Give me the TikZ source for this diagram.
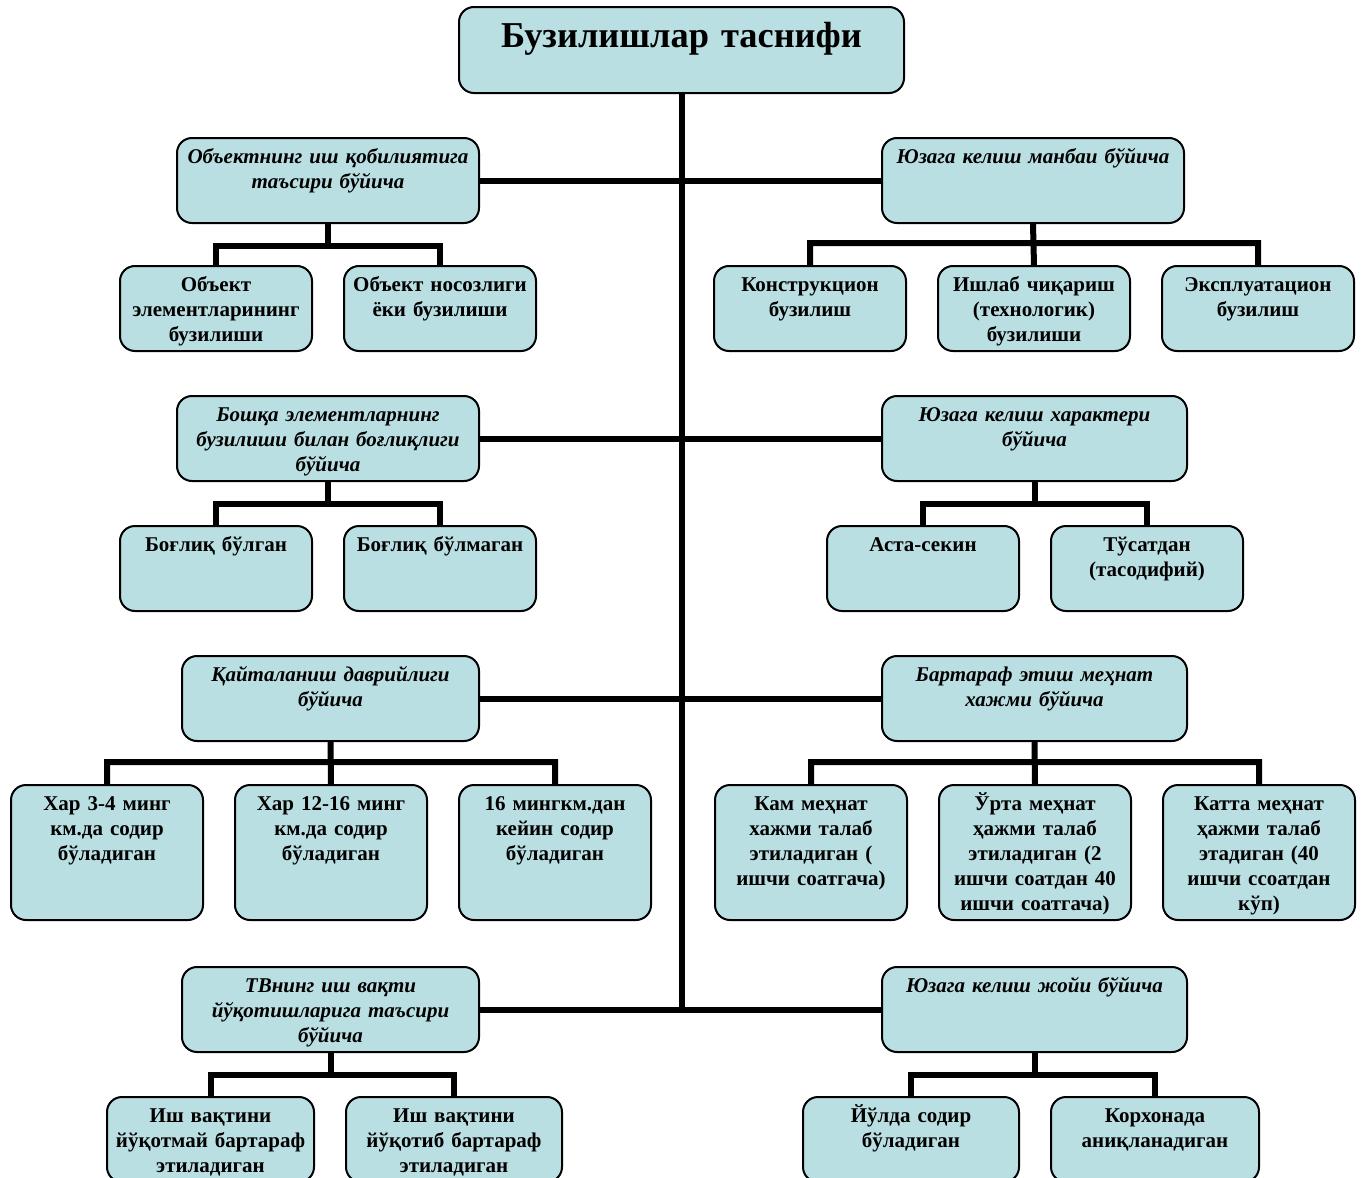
\documentclass[tikz,border=0pt]{standalone}
\usepackage{fontspec}
\setmainfont{Liberation Serif}
\definecolor{boxfill}{RGB}{186,223,227}
\begin{document}
\begin{tikzpicture}[x=0.5pt,y=-0.5pt,
    box/.style={draw,line width=1pt,rounded corners=7.5pt,fill=boxfill,align=center,
      anchor=north west,inner xsep=1pt,inner ysep=4pt,text height=8.5pt,text depth=26pt,
      font=\fontsize{10.5}{12.5}\selectfont\bfseries},
    cat/.style={box,text width=#1,font=\fontsize{10.5}{12.5}\selectfont\bfseries\itshape},
    cat/.default=149pt,
    kid/.style={box,text width=#1},
    kid/.default=94pt,
    tall/.style={text depth=51pt},
    link/.style={line width=3pt}]
    \useasboundingbox (0,0) rectangle (1362,1178);
    \clip (0,0) rectangle (1362,1178);

    % main box
    \node[box,text width=220.5pt,text height=16pt,text depth=19pt,
      font=\fontsize{18.2}{21}\selectfont\bfseries] (root) at (458,6) {Бузилишлар таснифи};

    % categories, left
    \node[cat] (L1) at (176,137) {Объектнинг иш қобилиятига\\таъсири бўйича};
    \node[cat] (L2) at (176,395) {Бошқа элементларнинг\\бузилиши билан боғлиқлиги\\бўйича};
    \node[cat=146.5pt] (L3) at (181,655) {Қайталаниш даврийлиги\\бўйича};
    \node[cat=146.5pt] (L4) at (181,966) {ТВнинг иш вақти\\йўқотишларига таъсири\\бўйича};

    % categories, right
    \node[cat] (R1) at (881,137) {Юзага келиш манбаи бўйича};
    \node[cat=150.5pt] (R2) at (881,395) {Юзага келиш характери\\бўйича};
    \node[cat=150.5pt] (R3) at (881,655) {Бартараф этиш меҳнат\\хажми бўйича};
    \node[cat=150.5pt] (R4) at (881,966) {Юзага келиш жойи бўйича};

    % kinds
    \node[kid] (L1a) at (119,265) {Объект\\элементларининг\\бузилиши};
    \node[kid] (L1b) at (343,265) {Объект носозлиги\\ёки бузилиши};
    \node[kid] (R1a) at (713,265) {Конструкцион\\бузилиш};
    \node[kid] (R1b) at (937,265) {Ишлаб чиқариш\\(технологик)\\бузилиши};
    \node[kid] (R1c) at (1161,265) {Эксплуатацион\\бузилиш};

    \node[kid] (L2a) at (119,525) {Боғлиқ бўлган};
    \node[kid] (L2b) at (343,525) {Боғлиқ бўлмаган};
    \node[kid] (R2a) at (826,525) {Аста-секин};
    \node[kid] (R2b) at (1050,525) {Тўсатдан\\(тасодифий)};

    \node[kid,tall] (L3a) at (10,784) {Хар 3-4 минг\\км.да содир\\бўладиган};
    \node[kid,tall] (L3b) at (234,784) {Хар 12-16 минг\\км.да содир\\бўладиган};
    \node[kid,tall] (L3c) at (458,784) {16 мингкм.дан\\кейин содир\\бўладиган};
    \node[kid,tall] (R3a) at (714,784) {Кам меҳнат\\хажми талаб\\этиладиган (\\ишчи соатгача)};
    \node[kid,tall] (R3b) at (938,784) {Ўрта меҳнат\\ҳажми талаб\\этиладиган (2\\ишчи соатдан 40\\ишчи соатгача)};
    \node[kid,tall] (R3c) at (1162,784) {Катта меҳнат\\ҳажми талаб\\этадиган (40\\ишчи ссоатдан\\кўп)};

    \node[kid=101.5pt] (L4a) at (106,1096) {Иш вақтини\\йўқотмай бартараф\\этиладиган};
    \node[kid=106pt] (L4b) at (345,1096) {Иш вақтини\\йўқотиб бартараф\\этиладиган};
    \node[kid=106pt] (R4a) at (802,1096) {Йўлда содир\\бўладиган};
    \node[kid=102pt] (R4b) at (1050,1096) {Корхонада\\аниқланадиган};

    % trunk and branches
    \draw[link] (root.south) -- (root.south |- L4.east);
    \draw[link] (L1.east) -- (R1.west);
    \draw[link] (L2.east) -- (R2.west);
    \draw[link] (L3.east) -- (R3.west);
    \draw[link] (L4.east) -- (R4.west);

    % buses
    \draw[link] (L1.south) -- ++(0,22) coordinate (b1) -| (L1a.north) (b1) -| (L1b.north);
    \draw[link] (R1.south) -- (R1b.north) (R1a.north) |- (R1b.north |- 0,243) -| (R1c.north);
    \draw[link] (L2.south) -- ++(0,22) coordinate (b2) -| (L2a.north) (b2) -| (L2b.north);
    \draw[link] (R2.south) -- ++(0,22) coordinate (b3) -| (R2a.north) (b3) -| (R2b.north);
    \draw[link] (L3.south) -- (L3b.north) (L3a.north) |- (L3b.north |- 0,762) -| (L3c.north);
    \draw[link] (R3.south) -- (R3b.north) (R3a.north) |- (R3b.north |- 0,762) -| (R3c.north);
    \draw[link] (L4.south) -- ++(0,22) coordinate (b4) -| (L4a.north) (b4) -| (L4b.north);
    \draw[link] (R4.south) -- ++(0,22) coordinate (b5) -| (R4a.north) (b5) -| (R4b.north);
\end{tikzpicture}
\end{document}
